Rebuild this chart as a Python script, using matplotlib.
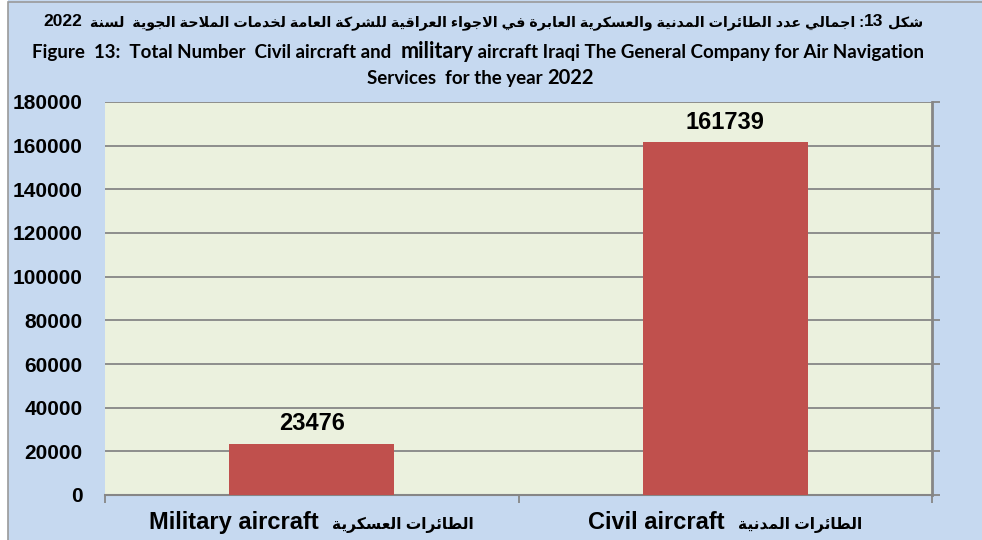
import re
import unicodedata
import matplotlib
matplotlib.use('Agg')
import matplotlib.pyplot as plt
from matplotlib.patches import Rectangle

# ---- data ----
categories_en = ['Military aircraft', 'Civil aircraft']
categories_ar = ['الطائرات العسكرية', 'الطائرات المدنية']
values = [23476, 161739]
yticks = list(range(0, 180001, 20000))

title_ar_head = 'شكل'
title_num = '13'
title_ar_body = 'اجمالي عدد الطائرات المدنية والعسكرية العابرة في الاجواء العراقية للشركة العامة لخدمات الملاحة الجوية  لسنة'
title_year = '2022'
title_en_a = 'Figure  13:  Total Number  Civil aircraft and  '
title_en_b = 'military'
title_en_c = ' aircraft Iraqi The General Company for Air Navigation'
title_en_d = 'Services  for the year '
title_en_e = '2022'

# ---- minimal arabic shaping (matplotlib has no bidi / joining) ----
RIGHT_ONLY = set('اأإآدذرزوؤةى')
NONJOIN = set('ء')
LAM_ALEF = {'ا': ('\uFEFB', '\uFEFC'), 'أ': ('\uFEF7', '\uFEF8'),
            'إ': ('\uFEF9', '\uFEFA'), 'آ': ('\uFEF5', '\uFEF6')}


def is_ar(c):
    return '\u0621' <= c <= '\u064A'


def joins_next(c):
    return is_ar(c) and c not in RIGHT_ONLY and c not in NONJOIN


def joins_prev(c):
    return is_ar(c) and c not in NONJOIN


def form(c, f):
    try:
        return unicodedata.lookup(unicodedata.name(c) + ' ' + f + ' FORM')
    except KeyError:
        return c


def shape(s):
    res = []
    i = 0
    n = len(s)
    while i < n:
        c = s[i]
        prev = s[i - 1] if i > 0 else ''
        cp = bool(prev) and joins_next(prev) and joins_prev(c)
        if c == 'ل' and i + 1 < n and s[i + 1] in LAM_ALEF:
            res.append(LAM_ALEF[s[i + 1]][1 if cp else 0])
            i += 2
            continue
        if not is_ar(c):
            res.append(c)
            i += 1
            continue
        nxt = s[i + 1] if i + 1 < n else ''
        cn = joins_next(c) and bool(nxt) and joins_prev(nxt)
        if cp and cn:
            f = 'MEDIAL'
        elif cp:
            f = 'FINAL'
        elif cn:
            f = 'INITIAL'
        else:
            f = 'ISOLATED'
        res.append(form(c, f))
        i += 1
    return ''.join(res)


def ar(s):
    v = shape(s)[::-1]
    return re.sub(r'\d+', lambda m: m.group(0)[::-1], v)


FAM = ['Liberation Sans', 'DejaVu Sans']
W, H = 982, 540

fig = plt.figure(figsize=(W / 100, H / 100), dpi=100, facecolor='#C6D9F0')
fig.patches.append(Rectangle((0, 0), 8 / W, 1, transform=fig.transFigure,
                             facecolor='white', edgecolor='none'))
fig.patches.append(Rectangle((8 / W, -0.05), 1.0, 1.05 - 1.5 / H, transform=fig.transFigure,
                             fill=False, edgecolor='#9a9a9a', lw=1.2))

ax = fig.add_axes([105 / W, 45 / H, 827 / W, 393 / H])
ax.set_facecolor('#EBF1DE')

x = list(range(len(values)))
bars = ax.bar(x, values, width=0.4, color='#C0504D', zorder=3)
ax.bar_label(bars, labels=[str(v) for v in values], padding=6,
             fontsize=17, fontweight='bold', family=FAM)

ax.set_xlim(-0.5, 1.5)
ax.set_ylim(0, 180000)
ax.set_yticks(yticks)
ax.set_yticklabels([str(t) for t in yticks], fontsize=15, fontweight='bold', family=FAM)
ax.yaxis.grid(True, color='#868686', lw=1.3)
ax.set_axisbelow(True)
ax.tick_params(axis='y', left=False, right=True, labelleft=True, direction='out',
               length=6, width=1.3, color='#868686', pad=10)

ax.set_xticks(x)
ax.set_xticklabels([])
ax.set_xticks([-0.5, 0.5, 1.5], minor=True)
ax.tick_params(axis='x', which='major', length=0)
ax.tick_params(axis='x', which='minor', length=6, width=1.3, color='#868686')

for s in ['left', 'top']:
    ax.spines[s].set_visible(False)
ax.spines['right'].set_color('#868686')
ax.spines['right'].set_linewidth(2)
ax.spines['bottom'].set_color('#868686')
ax.spines['bottom'].set_linewidth(1.5)

r = fig.canvas.get_renderer()


def line(pieces, cx, base_y):
    # pieces: (text, fontsize, family); placed side by side, centred on cx (pixels)
    texts = [fig.text(0, 1 - base_y / H, s, ha='left', va='baseline',
                      fontsize=fs, fontweight='bold', family=fam)
             for s, fs, fam in pieces]
    widths = [t.get_window_extent(r).width for t in texts]
    xpos = cx - sum(widths) / 2
    for t, w in zip(texts, widths):
        t.set_x(xpos / W)
        xpos += w


# category labels, centred under each bar
for xi, en, a in zip(x, categories_en, categories_ar):
    cx = ax.transData.transform((xi, 0))[0]
    line([(en + '  ', 17, FAM), (ar(a), 11.2, FAM)], cx, 529)

# ---- titles (arabic line is right-to-left: year on the left, heading on the right) ----
line([(title_year, 12.5, FAM), ('  ' + ar(title_ar_body) + ' :', 10.3, FAM),
      (title_num, 12.5, FAM), (' ' + ar(title_ar_head), 10.3, FAM)], 483, 26)
line([(title_en_a, 13.5, 'Lato'), (title_en_b, 15.6, 'Lato'), (title_en_c, 13.5, 'Lato')], 478, 58)
line([(title_en_d, 13.5, 'Lato'), (title_en_e, 14.5, 'Lato')], 480, 84)

fig.savefig('out.png', dpi=100, facecolor=fig.get_facecolor())
